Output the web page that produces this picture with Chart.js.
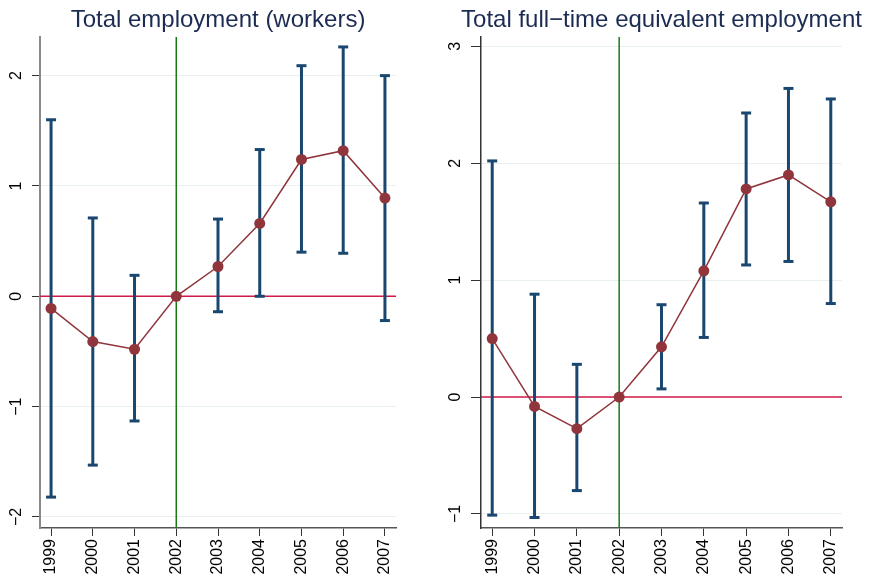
<!DOCTYPE html>
<html>
<head>
<meta charset="utf-8">
<script src="https://cdn.jsdelivr.net/npm/chart.js@4"></script>
<style>
  body { margin: 0; background: #fff; }
  .wrap { display: flex; width: 872px; height: 582px; }
  canvas { display: block; }
</style>
</head>
<body>
<div class="wrap">
  <canvas id="workers" width="436" height="582"></canvas>
  <canvas id="fte" width="436" height="582"></canvas>
</div>
<script>
let years = [1999, 2000, 2001, 2002, 2003, 2004, 2005, 2006, 2007];
let baseYear = 2002;

// point estimates and 95% bounds, 2002 is the reference year
let workersCoef = [-0.11, -0.41, -0.48, 0, 0.27, 0.66, 1.24, 1.32, 0.89];
let workersLow = [-1.82, -1.53, -1.13, null, -0.14, 0.0, 0.40, 0.39, -0.22];
let workersHigh = [1.60, 0.71, 0.19, null, 0.70, 1.33, 2.09, 2.26, 2.00];
let workersTicks = [-2, -1, 0, 1, 2];

let fteCoef = [0.50, -0.08, -0.27, 0, 0.43, 1.08, 1.78, 1.90, 1.67];
let fteLow = [-1.01, -1.03, -0.80, null, 0.07, 0.51, 1.13, 1.16, 0.80];
let fteHigh = [2.02, 0.88, 0.28, null, 0.79, 1.66, 2.43, 2.64, 2.55];
let fteTicks = [-1, 0, 1, 2, 3];

let navy = "#1a476f";
let maroon = "#90353b";
let zeroRed = "#d01a48";
let baseGreen = "#177a17";
let gridColor = "#e9f0f2";
let fontFamily = "'Liberation Sans', Arial, sans-serif";

// title centred over the plot region, allowed to run past its edges
let panelTitle = {
	id: "panelTitle",
	afterDraw: (chart, args, opts) => {
		let { ctx, chartArea } = chart;
		ctx.save();
		ctx.font = "24px " + fontFamily;
		ctx.fillStyle = "#1c2b52";
		ctx.textAlign = "center";
		ctx.textBaseline = "alphabetic";
		ctx.fillText(opts.text, (chartArea.left + chartArea.right) / 2, 27);
		ctx.restore();
	},
};

let renderPanel = (id, title, coef, low, high, yTicks, yMin, yMax, opts) => {
	let xMin = years[0] - 0.265;
	let xMax = years[years.length - 1] + 0.265;

	// each interval is a short segment, broken by a null point
	let bars = [];
	years.forEach((yr, i) => {
		if (low[i] === null) return;
		bars.push({ x: yr, y: low[i] });
		bars.push({ x: yr, y: high[i] });
		bars.push({ x: yr, y: null });
	});

	new Chart(document.getElementById(id), {
		type: "line",
		data: {
			datasets: [
				{
					data: years.map((yr, i) => ({ x: yr, y: coef[i] })),
					borderColor: maroon,
					borderWidth: 1.5,
					backgroundColor: maroon,
					pointBackgroundColor: maroon,
					pointBorderColor: maroon,
					pointRadius: 5.5,
					pointBorderWidth: 0,
					order: 0,
				},
				{
					data: bars,
					borderColor: navy,
					borderWidth: 3,
					pointStyle: "line",
					pointRadius: 5,
					pointBorderWidth: 3,
					pointBorderColor: navy,
					spanGaps: false,
					order: 1,
				},
				{
					data: [{ x: xMin, y: 0 }, { x: xMax, y: 0 }],
					borderColor: zeroRed,
					borderWidth: 1.5,
					pointRadius: 0,
					order: 2,
				},
				{
					data: [{ x: baseYear, y: yMin }, { x: baseYear, y: yMax }],
					borderColor: baseGreen,
					borderWidth: 1.5,
					pointRadius: 0,
					order: 3,
				},
			],
		},
		plugins: [panelTitle],
		options: {
			responsive: false,
			animation: false,
			devicePixelRatio: 1,
			layout: { padding: { left: 0, right: opts.padRight, top: 37, bottom: 0 } },
			plugins: {
				legend: { display: false },
				tooltip: { enabled: false },
				panelTitle: { text: title },
			},
			scales: {
				x: {
					type: "linear",
					min: xMin,
					max: xMax,
					afterBuildTicks: (s) => { s.ticks = years.map((v) => ({ value: v })); },
					afterFit: (s) => { s.height = 54; },
					grid: { drawOnChartArea: false, drawTicks: true, tickLength: 8, tickColor: "#333" },
					border: { color: "#555", width: 1.5 },
					ticks: {
						callback: (v) => String(v),
						minRotation: 90,
						maxRotation: 90,
						padding: 3,
						color: "#000",
						font: { family: fontFamily, size: 16 },
					},
				},
				y: {
					type: "linear",
					min: yMin,
					max: yMax,
					afterBuildTicks: (s) => { s.ticks = yTicks.map((v) => ({ value: v })); },
					afterFit: (s) => { s.width = opts.axisWidth; },
					grid: { color: gridColor, lineWidth: 1, drawTicks: true, tickLength: opts.tickLen, tickColor: "#333" },
					border: { color: opts.axisColor, width: opts.axisLine },
					ticks: {
						callback: (v) => (v < 0 ? "\u2212" + Math.abs(v) : String(v)),
						minRotation: 90,
						maxRotation: 90,
						crossAlign: "center",
						padding: 6,
						color: "#000",
						font: { family: fontFamily, size: 16 },
					},
				},
			},
		},
	});
};

renderPanel("workers", "Total employment (workers)", workersCoef, workersLow, workersHigh,
	workersTicks, -2.10, 2.35, { axisWidth: 40, padRight: 40, tickLen: 8, axisColor: "#8a8a8a", axisLine: 2 });
renderPanel("fte", "Total full\u2212time equivalent employment", fteCoef, fteLow, fteHigh,
	fteTicks, -1.12, 3.08, { axisWidth: 45, padRight: 30, tickLen: 10, axisColor: "#333", axisLine: 1.5 });
</script>
</body>
</html>
